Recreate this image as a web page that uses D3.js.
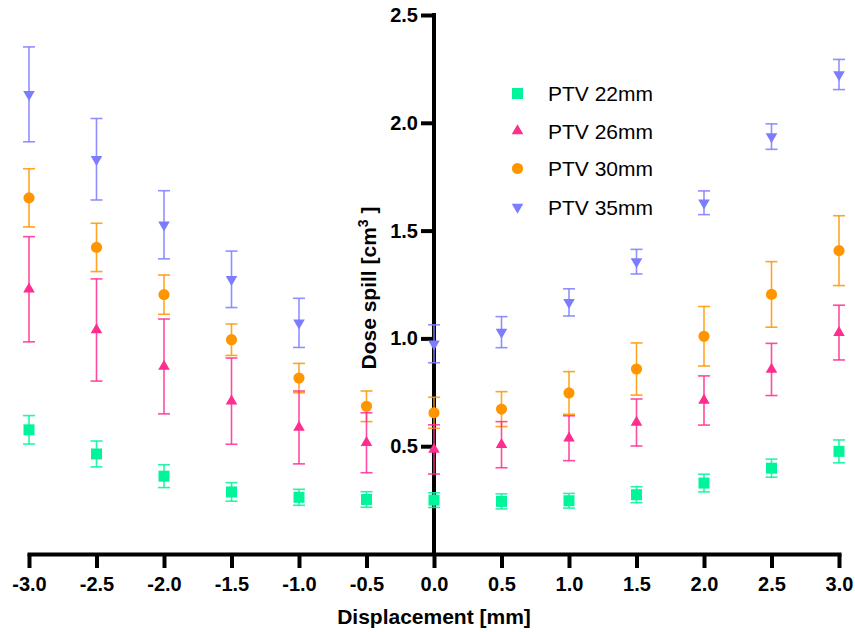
<!DOCTYPE html>
<html>
<head>
<meta charset="utf-8">
<script src="https://cdn.jsdelivr.net/npm/d3@7/dist/d3.min.js"></script>
<style>
  html, body { margin: 0; padding: 0; background: #fff; }
  svg { display: block; font-family: "Liberation Sans", Arial, sans-serif; }
</style>
</head>
<body>
<svg id="chart" width="855" height="632"></svg>
<script>
// Displacement positions (mm)
const displacement = [-3, -2.5, -2, -1.5, -1, -0.5, 0, 0.5, 1, 1.5, 2, 2.5, 3];

// Mean dose spill (cm³) and error half-widths per PTV size
const ptv22Mean = [0.576, 0.464, 0.361, 0.288, 0.263, 0.253, 0.250, 0.244, 0.247, 0.275, 0.329, 0.398, 0.476];
const ptv22Err  = [0.066, 0.060, 0.053, 0.043, 0.037, 0.036, 0.034, 0.035, 0.034, 0.037, 0.041, 0.042, 0.053];

const ptv26Mean = [1.228, 1.039, 0.870, 0.709, 0.587, 0.516, 0.485, 0.507, 0.537, 0.610, 0.712, 0.856, 1.027];
const ptv26Err  = [0.244, 0.237, 0.220, 0.200, 0.169, 0.139, 0.114, 0.107, 0.104, 0.109, 0.114, 0.121, 0.127];

const ptv30Mean = [1.652, 1.422, 1.203, 0.994, 0.816, 0.685, 0.655, 0.672, 0.747, 0.858, 1.010, 1.204, 1.407];
const ptv30Err  = [0.135, 0.112, 0.091, 0.073, 0.068, 0.071, 0.072, 0.081, 0.099, 0.121, 0.138, 0.152, 0.162];

const ptv35Mean = [2.132, 1.831, 1.527, 1.274, 1.072, 1.000, 0.975, 1.029, 1.167, 1.356, 1.629, 1.936, 2.224];
const ptv35Err  = [0.220, 0.189, 0.158, 0.131, 0.114, 0.076, 0.088, 0.072, 0.063, 0.057, 0.055, 0.059, 0.070];

const seriesNames = ["PTV 22mm", "PTV 26mm", "PTV 30mm", "PTV 35mm"];
const seriesColors = ["#00F59A", "#FF2D8F", "#FF9500", "#7C7CFF"];
const seriesSymbols = ["square", "triangle", "circle", "triangleDown"];

const xTicks = [-3, -2.5, -2, -1.5, -1, -0.5, 0, 0.5, 1, 1.5, 2, 2.5, 3];
const xTickLabels = ["-3.0", "-2.5", "-2.0", "-1.5", "-1.0", "-0.5", "0.0", "0.5", "1.0", "1.5", "2.0", "2.5", "3.0"];
const yTicks = [0.5, 1.0, 1.5, 2.0, 2.5];
const yTickLabels = ["0.5", "1.0", "1.5", "2.0", "2.5"];

const series = [
  { name: seriesNames[0], mean: ptv22Mean, err: ptv22Err, color: seriesColors[0], symbol: seriesSymbols[0] },
  { name: seriesNames[1], mean: ptv26Mean, err: ptv26Err, color: seriesColors[1], symbol: seriesSymbols[1] },
  { name: seriesNames[2], mean: ptv30Mean, err: ptv30Err, color: seriesColors[2], symbol: seriesSymbols[2] },
  { name: seriesNames[3], mean: ptv35Mean, err: ptv35Err, color: seriesColors[3], symbol: seriesSymbols[3] }
];

const svg = d3.select("#chart");
const x = d3.scaleLinear().domain([-3, 3]).range([29, 839]);
const y = d3.scaleLinear().domain([0, 2.5]).range([554, 15]);

// Marker shapes
function symbolPath(kind) {
  if (kind === "square") return d3.symbol(d3.symbolSquare, 121)();
  if (kind === "circle") return d3.symbol(d3.symbolCircle, 98)();
  return d3.symbol(d3.symbolTriangle, 58)();
}
function symbolTransform(kind, cx, cy) {
  if (kind === "triangleDown") return `translate(${cx},${cy}) rotate(180)`;
  return `translate(${cx},${cy})`;
}

// Axes
const xAxis = d3.axisBottom(x)
  .tickValues(xTicks)
  .tickFormat((d, i) => xTickLabels[i])
  .tickSize(14)
  .tickSizeOuter(0)
  .tickPadding(9);
const yAxis = d3.axisLeft(y)
  .tickValues(yTicks)
  .tickFormat((d, i) => yTickLabels[i])
  .tickSize(13)
  .tickSizeOuter(0)
  .tickPadding(3);

const gx = svg.append("g").attr("transform", `translate(0,${y(0)})`).call(xAxis);
const gy = svg.append("g").attr("transform", `translate(${x(0)},0)`).call(yAxis);

[gx, gy].forEach(g => {
  g.select(".domain").attr("stroke", "#000").attr("stroke-width", 4).attr("stroke-linecap", "square");
  g.selectAll(".tick line").attr("stroke", "#000").attr("stroke-width", 4);
  g.selectAll(".tick text")
    .attr("fill", "#000")
    .style("font-family", "'Liberation Sans', Arial, sans-serif")
    .style("font-size", "20px")
    .style("font-weight", "bold");
});
// y domain starts at the x axis
gy.select(".domain").attr("d", `M0,${y(2.5)}V${y(0)}`);
gx.selectAll(".tick text").attr("dy", "0.71em");

// Error bars and markers
const capHalf = 6;
series.slice().reverse().forEach(s => {
  const g = svg.append("g");
  displacement.forEach((d, i) => {
    const cx = x(d);
    const top = y(s.mean[i] + s.err[i]);
    const bot = y(s.mean[i] - s.err[i]);
    g.append("line").attr("x1", cx).attr("x2", cx).attr("y1", top).attr("y2", bot)
      .attr("stroke", s.color).attr("stroke-width", 1.6).attr("stroke-opacity", 0.85);
    g.append("line").attr("x1", cx - capHalf).attr("x2", cx + capHalf).attr("y1", top).attr("y2", top)
      .attr("stroke", s.color).attr("stroke-width", 1.6).attr("stroke-opacity", 0.85);
    g.append("line").attr("x1", cx - capHalf).attr("x2", cx + capHalf).attr("y1", bot).attr("y2", bot)
      .attr("stroke", s.color).attr("stroke-width", 1.6).attr("stroke-opacity", 0.85);
    g.append("path").attr("d", symbolPath(s.symbol))
      .attr("transform", symbolTransform(s.symbol, cx, y(s.mean[i])))
      .attr("fill", s.color);
  });
});

// Axis titles
svg.append("text")
  .attr("x", x(0)).attr("y", 624)
  .attr("text-anchor", "middle")
  .style("font-size", "21px").style("font-weight", "bold")
  .text("Displacement [mm]");

const yTitleG = svg.append("g").attr("transform", "translate(376,288) rotate(-90)");
const yTitleBg = yTitleG.append("rect").attr("fill", "#fff");
const yTitle = yTitleG.append("text")
  .attr("text-anchor", "middle")
  .style("font-size", "21px").style("font-weight", "bold");
yTitle.append("tspan").text("Dose spill [cm");
yTitle.append("tspan").attr("dy", "-8").style("font-size", "14px").text("3");
yTitle.append("tspan").attr("dy", "8").text(" ]");
const bb = yTitle.node().getBBox();
yTitleBg.attr("x", bb.x).attr("y", bb.y + 2).attr("width", bb.width).attr("height", bb.height - 4);

// Legend
const legendRows = [93.5, 131, 168.5, 207];
series.forEach((s, i) => {
  const ly = legendRows[i];
  svg.append("path").attr("d", symbolPath(s.symbol))
    .attr("transform", symbolTransform(s.symbol, 517.5, ly))
    .attr("fill", s.color);
  svg.append("text")
    .attr("x", 548).attr("y", ly + 7.5)
    .style("font-size", "21px")
    .attr("fill", "#000")
    .text(s.name);
});
</script>
</body>
</html>
